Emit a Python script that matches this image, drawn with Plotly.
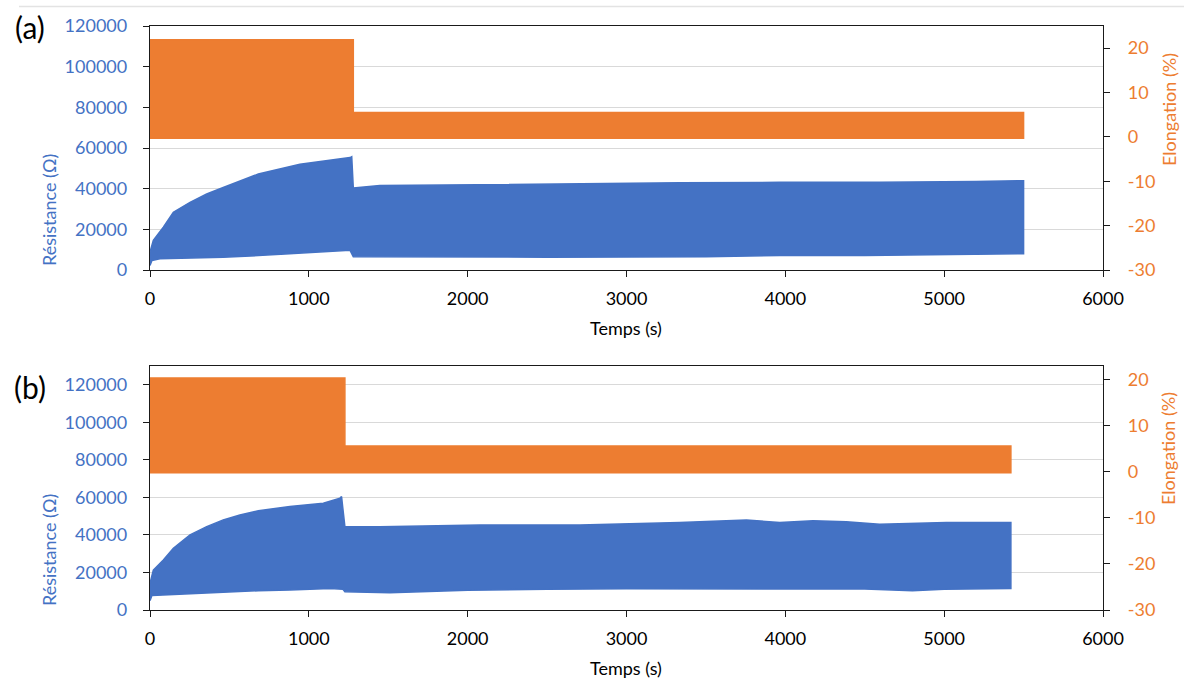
import plotly.graph_objects as go

# ---------------- data ----------------
# Panel (a) - resistance envelope (Ohm) vs time (s)
t_res_up_a = [0, 21, 84, 147, 252, 357, 461, 566, 682, 944, 1100, 1259, 1270, 1280,
              1447, 2077, 2706, 3335, 3965, 4594, 5200, 5500]
res_up_a = [8900, 14600, 21100, 28400, 33300, 37400, 40600, 43900, 47200, 52000, 53500,
            55300, 55700, 40300, 41500, 42000, 42600, 42900, 43100, 43100, 43500, 43900]
t_res_lo_a = [0, 5, 12, 63, 252, 461, 682, 944, 1259, 1280, 1573, 2500, 3500, 3965,
              4500, 5000, 5500]
res_lo_a = [2200, 3500, 4700, 5500, 6000, 6300, 7100, 8100, 9700, 6500, 6200, 6300,
            6500, 7100, 7100, 7500, 8000]
# Panel (a) - elongation envelope (%)
t_elo_up_a = [0, 1280, 1280, 5500]
elo_up_a = [21.9, 21.9, 5.5, 5.5]
t_elo_lo_a = [0, 5500]
elo_lo_a = [-0.3, -0.3]

# Panel (b) - resistance envelope
t_res_up_b = [0, 21, 84, 147, 252, 357, 461, 566, 682, 881, 1091, 1196, 1206, 1227,
              1447, 2077, 2706, 3335, 3755, 3965, 4175, 4384, 4594, 5014, 5420]
res_up_b = [14200, 21300, 26600, 32900, 40000, 44400, 48000, 50600, 52900, 55100, 56900,
            59600, 60400, 44400, 44400, 45300, 45300, 46600, 48000, 46600, 47500, 47000,
            45700, 46600, 46600]
t_res_lo_b = [0, 12, 84, 252, 461, 682, 881, 1133, 1215, 1227, 1510, 2000, 2500, 3000,
              3500, 4000, 4500, 4800, 5000, 5420]
res_lo_b = [5000, 7700, 8200, 8600, 9400, 10300, 10700, 11500, 11000, 9700, 9200, 10500,
            11000, 11300, 11500, 11300, 11200, 10300, 11000, 11500]
# Panel (b) - elongation envelope
t_elo_up_b = [0, 1227, 1227, 5420]
elo_up_b = [20.4, 20.4, 5.6, 5.6]
t_elo_lo_b = [0, 5420]
elo_lo_b = [-0.2, -0.2]

x_ticks = [0, 1000, 2000, 3000, 4000, 5000, 6000]
elo_ticks = [-30, -20, -10, 0, 10, 20]

BLUE = "#4472C4"
ORANGE = "#ED7D31"
FONT = "Lato"
W, H = 1184, 678


def band(t_up, v_up, t_lo, v_lo):
    xs = list(t_up) + list(reversed(t_lo))
    ys = list(v_up) + list(reversed(v_lo))
    return xs, ys


fig = go.Figure()

for (tu, vu, tl, vl, xa, ya) in [
    (t_res_up_a, res_up_a, t_res_lo_a, res_lo_a, "x", "y"),
    (t_res_up_b, res_up_b, t_res_lo_b, res_lo_b, "x2", "y3"),
]:
    xs, ys = band(tu, vu, tl, vl)
    fig.add_trace(go.Scatter(x=xs, y=ys, fill="toself", fillcolor=BLUE,
                             line=dict(color=BLUE, width=1.5), mode="lines",
                             xaxis=xa, yaxis=ya, showlegend=False, hoverinfo="skip"))

for (tu, vu, tl, vl, xa, ya) in [
    (t_elo_up_a, elo_up_a, t_elo_lo_a, elo_lo_a, "x", "y2"),
    (t_elo_up_b, elo_up_b, t_elo_lo_b, elo_lo_b, "x2", "y4"),
]:
    xs, ys = band(tu, vu, tl, vl)
    fig.add_trace(go.Scatter(x=xs, y=ys, fill="toself", fillcolor=ORANGE,
                             line=dict(color=ORANGE, width=1.5), mode="lines",
                             xaxis=xa, yaxis=ya, showlegend=False, hoverinfo="skip"))


def px_x(p):
    return p / W


def px_y(p):
    return 1 - p / H


xdom = [px_x(150), px_x(1103)]
dom_a = [px_y(270), px_y(26)]
dom_b = [px_y(610), px_y(366)]

AX_COL = "#1a1a1a"
GRID = "#d9d9d9"
tickfont_x = dict(family=FONT, size=18, color="#000000")
tickfont_l = dict(family=FONT, size=18, color=BLUE)
tickfont_r = dict(family=FONT, size=18, color=ORANGE)

xcommon = dict(range=[0, 6000], tickvals=x_ticks, showgrid=False, zeroline=False,
               showline=True, linecolor=AX_COL, linewidth=1.3, mirror=True,
               ticks="outside", ticklen=6, tickcolor=AX_COL, tickfont=tickfont_x,
               ticklabelstandoff=6, domain=xdom, automargin=False)
ylcommon = dict(dtick=20000, tick0=0, showgrid=True, gridcolor=GRID, gridwidth=1.2,
                zeroline=False, showline=True, linecolor=AX_COL, linewidth=1.3,
                ticks="outside", ticklen=6, tickcolor=AX_COL, tickfont=tickfont_l,
                ticklabelstandoff=12, tickformat="d", automargin=False)
yrcommon = dict(tickvals=elo_ticks, ticktext=[str(v) for v in elo_ticks],
                showgrid=False, zeroline=False, showline=True,
                linecolor=AX_COL, linewidth=1.3, ticks="outside", ticklen=6,
                tickcolor=AX_COL, tickfont=tickfont_r, ticklabelstandoff=14, side="right",
                automargin=False)

fig.update_layout(
    width=W, height=H,
    margin=dict(l=0, r=0, t=0, b=0, pad=0),
    paper_bgcolor="white", plot_bgcolor="white",
    showlegend=False,
    xaxis=dict(anchor="y", **xcommon),
    xaxis2=dict(anchor="y3", **xcommon),
    yaxis=dict(domain=dom_a, range=[0, 120000], anchor="x", **ylcommon),
    yaxis2=dict(domain=dom_a, range=[-30, 25], anchor="x", overlaying="y", **yrcommon),
    yaxis3=dict(domain=dom_b, range=[0, 130000], anchor="x2", **ylcommon),
    yaxis4=dict(domain=dom_b, range=[-30, 23], anchor="x2", overlaying="y3", **yrcommon),
)


def ann(text, x, y, size, color, angle=0):
    fig.add_annotation(text=text, x=px_x(x), y=px_y(y), xref="paper", yref="paper",
                       xanchor="center", yanchor="middle", showarrow=False,
                       textangle=angle, font=dict(family=FONT, size=size, color=color))


ann("(a)", 30, 27, 30, "#000000")
ann("(b)", 30, 387, 30, "#000000")
ann("Résistance (Ω)", 49, 210, 18, BLUE, -90)
ann("Résistance (Ω)", 49, 550, 18, BLUE, -90)
ann("Elongation (%)", 1169, 110, 18, ORANGE, -90)
ann("Elongation (%)", 1168, 449, 18, ORANGE, -90)
ann("Temps (s)", 626, 328, 18, "#000000")
ann("Temps (s)", 626, 668, 18, "#000000")

fig.add_shape(type="line", xref="paper", yref="paper", x0=px_x(19), x1=1,
              y0=px_y(6.5), y1=px_y(6.5), line=dict(color="#e3e3e3", width=1.5))

fig.write_html(
    "out.html",
    config={"displayModeBar": False},
    post_script="document.body.style.margin='0px'; document.body.style.overflow='hidden';",
)
